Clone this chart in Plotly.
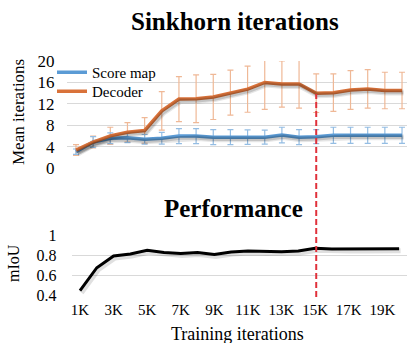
import plotly.graph_objects as go

# ---------------- data ----------------
iters_k = list(range(1, 21))                       # training iterations (K)
tick_vals = [1, 3, 5, 7, 9, 11, 13, 15, 17, 19]
tick_text = ["1K", "3K", "5K", "7K", "9K", "11K", "13K", "15K", "17K", "19K"]

score_map = [3.1, 4.9, 5.6, 5.7, 5.4, 5.6, 6.0, 6.0, 5.8, 5.8,
             5.8, 5.8, 6.2, 5.8, 5.9, 6.15, 6.15, 6.15, 6.15, 6.15]
score_err = [0.5, 1.0, 1.0, 0.9, 0.9, 1.1, 1.4, 1.4, 1.4, 1.4,
             1.35, 1.3, 1.45, 1.4, 1.3, 1.5, 1.5, 1.5, 1.5, 1.5]

decoder = [3.4, 4.9, 6.05, 6.7, 7.05, 10.7, 12.9, 12.95, 13.3, 14.1,
           14.75, 16.0, 15.7, 15.7, 14.0, 14.1, 14.6, 14.8, 14.5, 14.5]
decoder_err = [1.0, 1.1, 1.6, 1.8, 2.4, 3.6, 4.2, 4.45, 4.2, 4.2,
               4.3, 5.0, 4.3, 4.5, 3.6, 3.5, 3.6, 3.6, 3.4, 3.4]

miou = [0.444, 0.676, 0.794, 0.815, 0.852, 0.831, 0.82, 0.83, 0.81, 0.835,
        0.845, 0.84, 0.838, 0.845, 0.872, 0.865, 0.865, 0.865, 0.868, 0.868]

marker_iter = 15   # red dashed line position (K)

# ---------------- layout geometry ----------------
W, H = 407, 343
FONT = "'Times New Roman', 'Liberation Serif', 'DejaVu Serif', serif"

def fy(px):
    return 1 - px / H

top_xrange = [0.5, 20.29]
top_yrange = [0, 20]
bot_xrange = [0.5, 20.47]
bot_yrange = [0.4, 1.0]

# shadow offsets (px) converted to axis units
top_xscale = (W - 67.4) / (top_xrange[1] - top_xrange[0])
top_yscale = (168.3 - 61) / (top_yrange[1] - top_yrange[0])
bot_xscale = (W - 71.6) / (bot_xrange[1] - bot_xrange[0])
bot_yscale = (295 - 235.7) / (bot_yrange[1] - bot_yrange[0])
sdx, sdy = 1.5, 2.0

fig = go.Figure()

# error bars (drawn beneath lines)
fig.add_trace(go.Scatter(
    x=iters_k, y=decoder, mode="markers",
    marker=dict(size=1, color="rgba(0,0,0,0)"),
    error_y=dict(type="data", array=decoder_err, color="#EFB896", thickness=1.2, width=3),
    showlegend=False, hoverinfo="skip", xaxis="x", yaxis="y"))
fig.add_trace(go.Scatter(
    x=iters_k, y=score_map, mode="markers",
    marker=dict(size=1, color="rgba(0,0,0,0)"),
    error_y=dict(type="data", array=score_err, color="#94BDE3", thickness=1.2, width=3),
    showlegend=False, hoverinfo="skip", xaxis="x", yaxis="y"))

# shadows
for vals in (score_map, decoder):
    fig.add_trace(go.Scatter(
        x=iters_k, y=vals, mode="lines",
        line=dict(color="rgba(0,0,0,0.10)", width=6),
        showlegend=False, hoverinfo="skip", xaxis="x3", yaxis="y3"))
    fig.add_trace(go.Scatter(
        x=iters_k, y=vals, mode="lines",
        line=dict(color="rgba(0,0,0,0.15)", width=3.5),
        showlegend=False, hoverinfo="skip", xaxis="x3", yaxis="y3"))
fig.add_trace(go.Scatter(
    x=iters_k, y=miou, mode="lines",
    line=dict(color="rgba(0,0,0,0.12)", width=5),
    showlegend=False, hoverinfo="skip", xaxis="x4", yaxis="y4"))

# main lines
fig.add_trace(go.Scatter(
    x=iters_k, y=score_map, mode="lines", name="Score map", legend="legend",
    line=dict(color="#5B9BD5", width=3.5), xaxis="x", yaxis="y"))
fig.add_trace(go.Scatter(
    x=iters_k, y=decoder, mode="lines", name="Decoder", legend="legend2",
    line=dict(color="#D9723A", width=3.5), xaxis="x", yaxis="y"))
fig.add_trace(go.Scatter(
    x=iters_k, y=miou, mode="lines", name="mIoU",
    line=dict(color="#000000", width=3), showlegend=False,
    xaxis="x2", yaxis="y2"))

grid = "#D9D9D9"
top_ydom = [fy(168.3), fy(61)]
bot_ydom = [fy(295), fy(235.7)]
top_xdom = [67.4 / W, 1]
bot_xdom = [71.6 / W, 1]

legend_common = dict(xanchor="left", yanchor="top", bgcolor="rgba(0,0,0,0)",
                     font=dict(size=15, family=FONT), itemwidth=30)

fig.update_layout(
    width=W, height=H,
    margin=dict(l=0, r=0, t=0, b=0, autoexpand=False),
    paper_bgcolor="white", plot_bgcolor="white",
    font=dict(family=FONT, color="#000000"),
    xaxis=dict(domain=top_xdom, range=top_xrange, showgrid=False, zeroline=False,
               showticklabels=False, showline=False, fixedrange=True, automargin=False),
    yaxis=dict(domain=top_ydom, range=top_yrange, tickvals=[0, 4, 8, 12, 16, 20],
               showgrid=True, gridcolor=grid, gridwidth=1, zeroline=False,
               showline=False, tickfont=dict(size=17, family=FONT),
               ticklabelstandoff=12, automargin=False),
    xaxis3=dict(overlaying="x", range=[top_xrange[0] - sdx / top_xscale, top_xrange[1] - sdx / top_xscale],
                visible=False),
    yaxis3=dict(overlaying="y", range=[top_yrange[0] + sdy / top_yscale, top_yrange[1] + sdy / top_yscale],
                visible=False),
    xaxis2=dict(domain=bot_xdom, range=bot_xrange, anchor="y2", showgrid=False, zeroline=False,
                tickvals=tick_vals, ticktext=tick_text, showline=False,
                tickfont=dict(size=15, family=FONT), ticklabelstandoff=4, automargin=False),
    yaxis2=dict(domain=bot_ydom, range=bot_yrange, anchor="x2", tickvals=[0.4, 0.6, 0.8, 1],
                ticktext=["0.4", "0.6", "0.8", "1"],
                showgrid=True, gridcolor=grid, gridwidth=1, zeroline=False, showline=False,
                tickfont=dict(size=16, family=FONT), ticklabelstandoff=14, automargin=False),
    xaxis4=dict(overlaying="x2", range=[bot_xrange[0] - sdx / bot_xscale, bot_xrange[1] - sdx / bot_xscale],
                visible=False),
    yaxis4=dict(overlaying="y2", range=[bot_yrange[0] + sdy / bot_yscale, bot_yrange[1] + sdy / bot_yscale],
                visible=False),
    legend=dict(x=52 / W, y=fy(56), **legend_common),
    legend2=dict(x=52 / W, y=fy(75), **legend_common),
    showlegend=True,
)

fig.add_annotation(text="<b>Sinkhorn iterations</b>", xref="paper", yref="paper",
                   x=235 / W, y=fy(22), xanchor="center", yanchor="middle",
                   showarrow=False, font=dict(size=25, family=FONT))
fig.add_annotation(text="<b>Performance</b>", xref="paper", yref="paper",
                   x=233 / W, y=fy(208), xanchor="center", yanchor="middle",
                   showarrow=False, font=dict(size=25, family=FONT))
fig.add_annotation(text="Mean iterations", xref="paper", yref="paper",
                   x=19 / W, y=fy(112), xanchor="center", yanchor="middle",
                   showarrow=False, textangle=-90, font=dict(size=17, family=FONT))
fig.add_annotation(text="mIoU", xref="paper", yref="paper",
                   x=13 / W, y=fy(263), xanchor="center", yanchor="middle",
                   showarrow=False, textangle=-90, font=dict(size=16, family=FONT))
fig.add_annotation(text="Training iterations", xref="paper", yref="paper",
                   x=238 / W, y=fy(334), xanchor="center", yanchor="middle",
                   showarrow=False, font=dict(size=18, family=FONT))

fig.add_shape(type="line", xref="x", yref="paper", x0=marker_iter, x1=marker_iter,
              y0=fy(297), y1=fy(94), line=dict(color="#E0313B", width=2, dash="6px,3px"))

fig.write_html("out.html")
